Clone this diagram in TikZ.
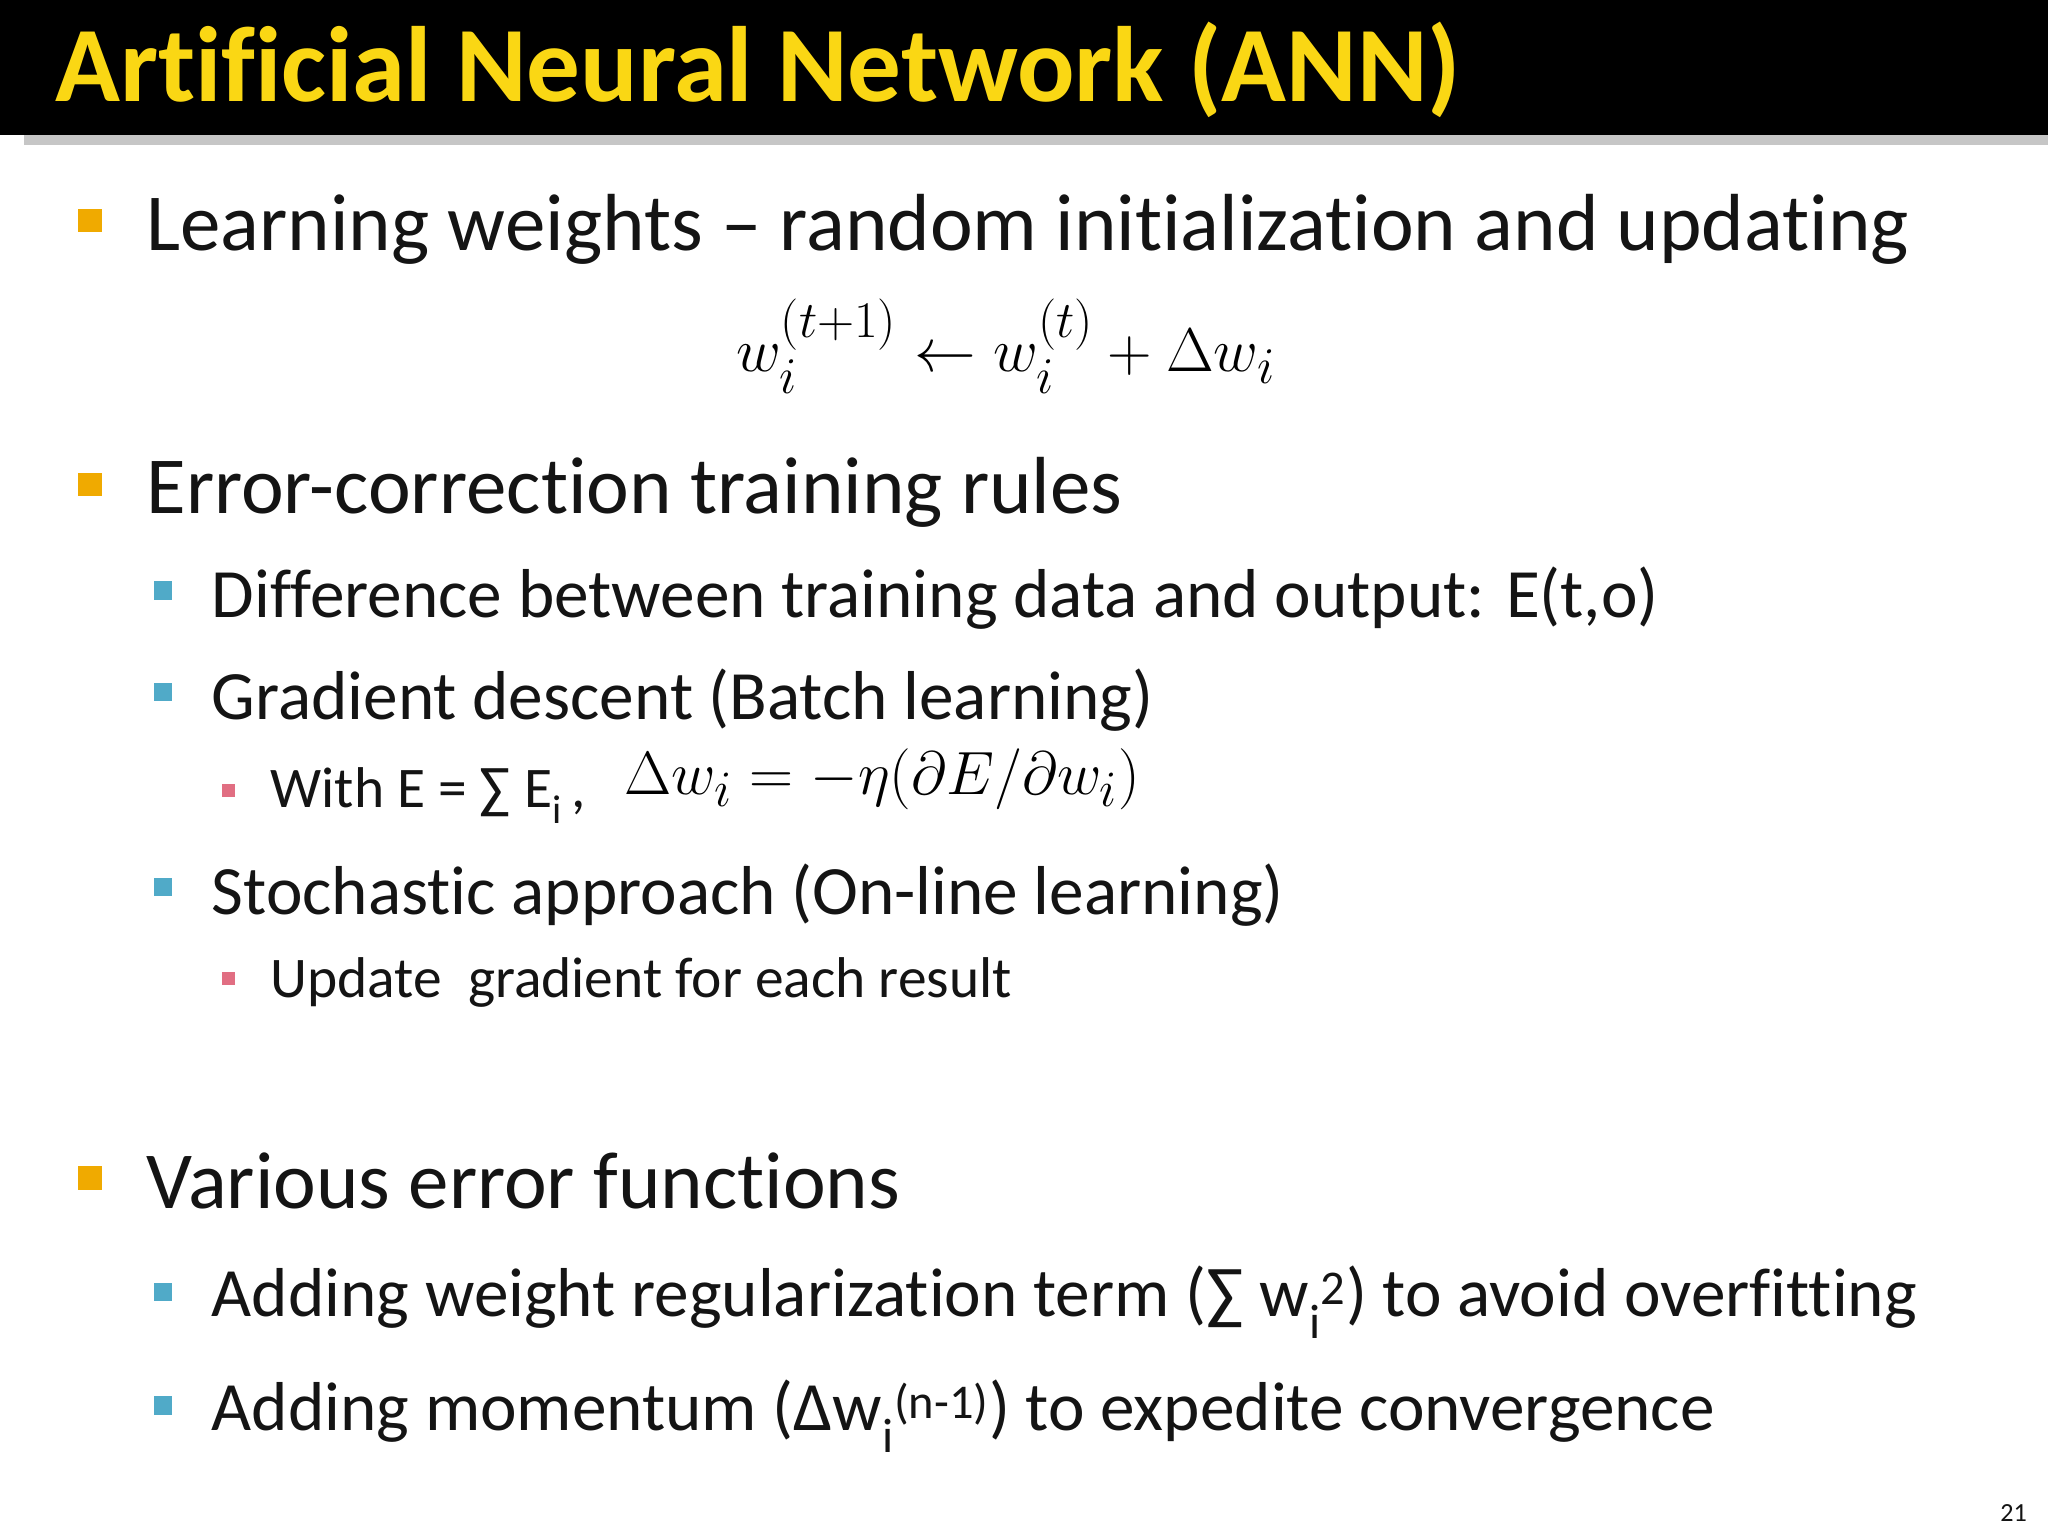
\documentclass[tikz,border=0pt]{standalone}
\usepackage{fontspec}
\setmainfont{Carlito}[Ligatures=NoCommon]
\usepackage{amsmath}
\definecolor{titley}{RGB}{250,215,20}
\definecolor{bor}{RGB}{240,170,0}
\definecolor{bblue}{RGB}{80,170,200}
\definecolor{bpink}{RGB}{225,110,130}
\definecolor{txt}{RGB}{20,20,20}
\begin{document}
\begin{tikzpicture}[x=1pt,y=-1pt,
  lvA/.style={anchor=base west,inner sep=0,font=\fontsize{62}{66}\selectfont,text=txt},
  lvB/.style={anchor=base west,inner sep=0,font=\fontsize{53}{57}\selectfont,text=txt},
  lvC/.style={anchor=base west,inner sep=0,font=\fontsize{44}{48}\selectfont,text=txt},
  sqA/.style={fill=bor,minimum size=18pt,inner sep=0,anchor=center},
  sqB/.style={fill=bblue,minimum size=14pt,inner sep=0,anchor=center},
  sqC/.style={fill=bpink,minimum size=10pt,inner sep=0,anchor=center}]
\useasboundingbox (0,0) rectangle (1568,1176);
\fill[white] (0,0) rectangle (1568,1176);
\fill[gray!45] (18,103) rectangle (1568,111);
\fill[black] (0,0) rectangle (1568,103);
\node[anchor=base west,inner sep=0,text=titley,font=\fontsize{82}{86}\bfseries\selectfont] (title) at (42,78) {Artificial Neural Network (ANN)};
\node[sqA] (s1) at (69,169) {};
\node[lvA] (t1) at (112,192) {Learning weights – random initialization and updating};
\node[inner sep=0] (f1) at (770,265) {\scalebox{1.9}{\fontsize{30}{34}\selectfont$w_i^{(t+1)} \leftarrow w_i^{(t)} + \Delta w_i$}};
\node[sqA] (s2) at (69,371) {};
\node[lvA] (t2) at (112,393) {Error-correction training rules};
\node[sqB] (s3) at (125,452) {};
\node[lvB] (t3) at (162,473) {Difference between training data and output: E(t,o)};
\node[sqB] (s4) at (125,530) {};
\node[lvB] (t4) at (162,551) {Gradient descent (Batch learning)};
\node[sqC] (s5) at (175,605) {};
\node[lvC] (t5) at (207,618) {With E = ∑ E\textsubscript{i}\,,};
\node[anchor=base west,inner sep=0] (f2) at (478,608) {\scalebox{1.88}{\fontsize{30}{34}\selectfont$\Delta w_i = -\eta(\partial E/\partial w_i)$}};
\node[sqB] (s6) at (125,679) {};
\node[lvB] (t6) at (162,700) {Stochastic approach (On-line learning)};
\node[sqC] (s7) at (175,749) {};
\node[lvC] (t7) at (207,764) {Update\ \ gradient for each result};
\node[sqA] (s8) at (69,902) {};
\node[lvA] (t8) at (112,925) {Various error functions};
\node[sqB] (s9) at (125,989) {};
\node[lvB] (t9) at (162,1008) {Adding weight regularization term (∑ w\textsubscript{i}\textsuperscript{2}) to avoid overfitting};
\node[sqB] (s10) at (125,1076) {};
\node[lvB] (t10) at (162,1095) {Adding momentum (Δw\textsubscript{i}\textsuperscript{(n-1)}) to expedite convergence};
\node[anchor=base east,inner sep=0,font=\fontsize{20}{22}\selectfont,text=txt] (pg) at (1552,1165) {21};
\end{tikzpicture}
\end{document}
